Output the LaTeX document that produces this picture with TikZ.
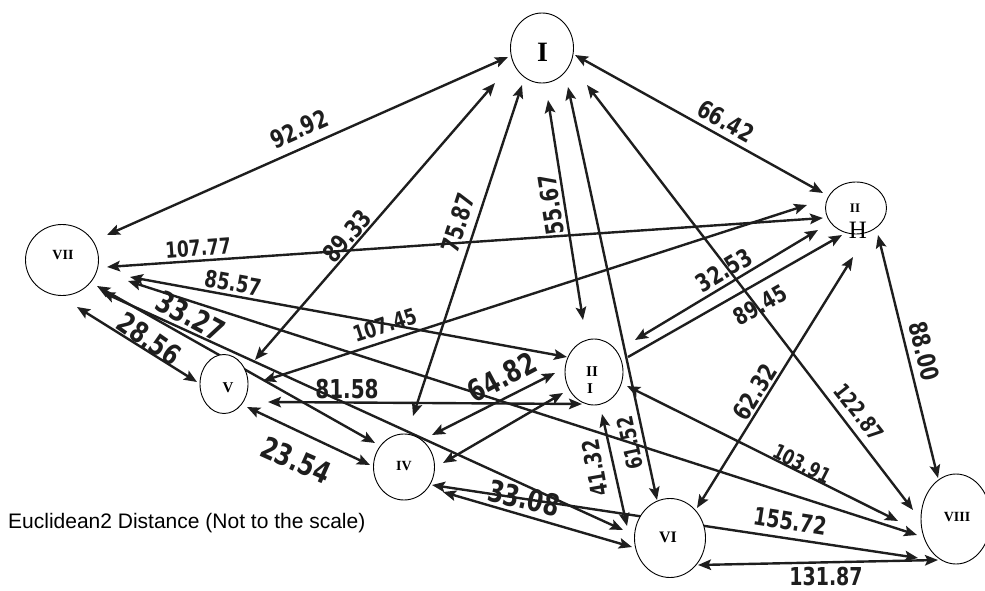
\documentclass[tikz,border=0pt]{standalone}
\usepackage{fontspec}
\setmainfont{Liberation Serif}
\newfontfamily\numfont{DejaVu Sans}
\newfontfamily\capfont{Liberation Sans}
\usetikzlibrary{arrows.meta,calc,shapes.geometric}
\pgfdeclarelayer{edges}
\pgfsetlayers{edges,main}
\definecolor{ink}{HTML}{1E1E1E}
\tikzset{
  vertex/.style={ellipse, draw=black, line width=0.9pt, fill=white, inner sep=0pt},
  vname/.style={font=\bfseries\fontsize{#1}{#1}\selectfont, inner sep=0pt},
  vthin/.style={font=\fontsize{#1}{#1}\selectfont, inner sep=0pt},
  link/.style={line width=2.4pt, draw=ink},
  num/.style={font=\numfont\bfseries\fontsize{#1}{#1}\selectfont, inner sep=0pt, text=ink},
  tall/.style={yscale=1.3},
}
\begin{document}
\begin{tikzpicture}[x=1pt,y=-1pt,>={Stealth[length=13pt,width=10.5pt,inset=2.5pt]}]
\useasboundingbox (0,0) rectangle (985,591);

% vertices
\node[vertex, minimum width=63pt, minimum height=70pt] (n1) at (542,48) {};
\node[vertex, minimum width=61pt, minimum height=52pt] (n2) at (856,208) {};
\node[vertex, minimum width=58pt, minimum height=66pt] (n3) at (594,372) {};
\node[vertex, minimum width=61pt, minimum height=66pt] (n4) at (404,467) {};
\node[vertex, minimum width=48pt, minimum height=59pt] (n5) at (224,384) {};
\node[vertex, minimum width=71pt, minimum height=79pt] (n6) at (670,538) {};
\node[vertex, minimum width=73pt, minimum height=71pt] (n7) at (62,260) {};
\node[vertex, minimum width=70pt, minimum height=90pt] (n8) at (956,519) {};

% vertex names
\node[vname=28] (n1t) at (542.5,52) {I};
\node[vname=13] (n2a) at (855,208) {II};
\node[vthin=25] (n2b) at (858,230) {H};
\node[vname=15] (n3a) at (592,372) {II};
\node[vname=15] (n3b) at (590,389) {I};
\node[vname=14] (n4t) at (404,466) {IV};
\node[vname=15] (n5t) at (228,388) {V};
\node[vname=16] (n6t) at (668,537) {VI};
\node[vname=14] (n7t) at (63,255) {VII};
\node[vname=14] (n8t) at (957,517) {VIII};

% connectors
\begin{pgfonlayer}{edges}
\draw[link,<->] ($(n1)+(-34,9)$) -- ($(n7)+(45,-25)$);
\draw[link,<->] ($(n1)+(-47,35)$) -- ($(n5)+(31,-24)$);
\draw[link,<->] ($(n1)+(-20,37)$) -- ($(n4)+(9,-51)$);
\draw[link,<->] ($(n1)+(6,52)$) -- ($(n3)+(-11,-52)$);
\draw[link,<->] ($(n1)+(26,39)$) -- ($(n6)+(-13,-38)$);
\draw[link,<->] ($(n1)+(45,37)$) -- ($(n8)+(-43,-9)$);
\draw[link,<->] ($(n1)+(33,7)$) -- ($(n2)+(-33,-15)$);
\draw[link,<->] ($(n7)+(45,7)$) -- ($(n2)+(-33,10)$);
\draw[link,<->] ($(n7)+(68,17)$) -- ($(n3)+(-27,-15)$);
\draw[link,<->] ($(n7)+(66,21)$) -- ($(n8)+(-39,16)$);
\draw[link,<->] ($(n7)+(35,26)$) -- ($(n4)+(-29,-24)$);
\draw[link,<->] ($(n7)+(40,32)$) -- ($(n6)+(-47,-8)$);
\draw[link,<->] ($(n7)+(15,47)$) -- ($(n5)+(-27,-2)$);
\draw[link,<->] ($(n5)+(39,-3)$) -- ($(n2)+(-49,-3)$);
\draw[link,<->] ($(n5)+(44,18)$) -- ($(n3)+(-12,32)$);
\draw[link,<->] ($(n5)+(23,23)$) -- ($(n4)+(-34,-2)$);
\draw[link,<->] ($(n3)+(41,-32)$) -- ($(n2)+(-38,22)$);
\draw[link,->] ($(n3)+(34,-15)$) -- ($(n2)+(-14,27)$);
\draw[link,<->] ($(n4)+(28,-32)$) -- ($(n3)+(-39,1)$);
\draw[link,<->] ($(n4)+(39,-4)$) -- ($(n3)+(-31,21)$);
\draw[link,<->] ($(n4)+(39,25)$) -- ($(n6)+(-38,9)$);
\draw[link,<->] ($(n4)+(28,18)$) -- ($(n8)+(-38,39)$);
\draw[link,<->] ($(n3)+(8,42)$) -- ($(n6)+(-43,-12)$);
\draw[link,<->] ($(n6)+(27,-30)$) -- ($(n2)+(-3,49)$);
\draw[link,<->] ($(n2)+(22,27)$) -- ($(n8)+(-18,-41)$);
\draw[link,<->] ($(n3)+(33,14)$) -- ($(n8)+(-58,2)$);
\draw[link,<->] ($(n6)+(28,27)$) -- ($(n8)+(-18,41)$);
\end{pgfonlayer}

% distances
\node[num=19, rotate=24, tall]  (t1)  at (299,129) {92.92};
\node[num=19, rotate=49, tall]  (t2)  at (347,236) {89.33};
\node[num=19, rotate=72, tall]  (t3)  at (458,223) {75.87};
\node[num=19, rotate=99, tall]  (t4)  at (551,205) {55.67};
\node[num=17, rotate=102, tall] (t5)  at (630,443) {61.52};
\node[num=17, rotate=-52, tall] (t6)  at (859,412) {122.87};
\node[num=19, rotate=-29, tall] (t7)  at (726,121) {66.42};
\node[num=17, rotate=4, tall]   (t8)  at (198,248) {107.77};
\node[num=18, rotate=-10, tall] (t9)  at (233,283) {85.57};
\node[num=17, rotate=18, tall]  (t10) at (385,325) {107.45};
\node[num=19, rotate=31, tall]  (t11) at (724,270) {32.53};
\node[num=18, rotate=30, tall]  (t12) at (760,305) {89.45};
\node[num=19, rotate=58, tall]  (t13) at (755,392) {62.32};
\node[num=19, rotate=-76, tall] (t14) at (924,351) {88.00};
\node[num=16, rotate=-27, tall] (t15) at (802,464) {103.91};
\node[num=19, rotate=-9, tall]  (t16) at (790,521) {155.72};
\node[num=19, tall]             (t17) at (826,577) {131.87};
\node[num=23, rotate=-13, tall] (t18) at (524,498) {33.08};
\node[num=23, rotate=28, tall]  (t19) at (502,377) {64.82};
\node[num=20, tall]             (t20) at (347,389) {81.58};
\node[num=23, rotate=-24, tall] (t21) at (296,460) {23.54};
\node[num=23, rotate=-28, tall] (t22) at (191,316) {33.27};
\node[num=22, rotate=-35, tall] (t23) at (149,339) {28.56};
\node[num=18, rotate=100, tall] (t24) at (595,468) {41.32};

\node[anchor=base west, inner sep=0pt, font=\capfont\fontsize{21}{21}\selectfont] (cap) at (8,528) {Euclidean2 Distance (Not to the scale)};
\end{tikzpicture}
\end{document}
